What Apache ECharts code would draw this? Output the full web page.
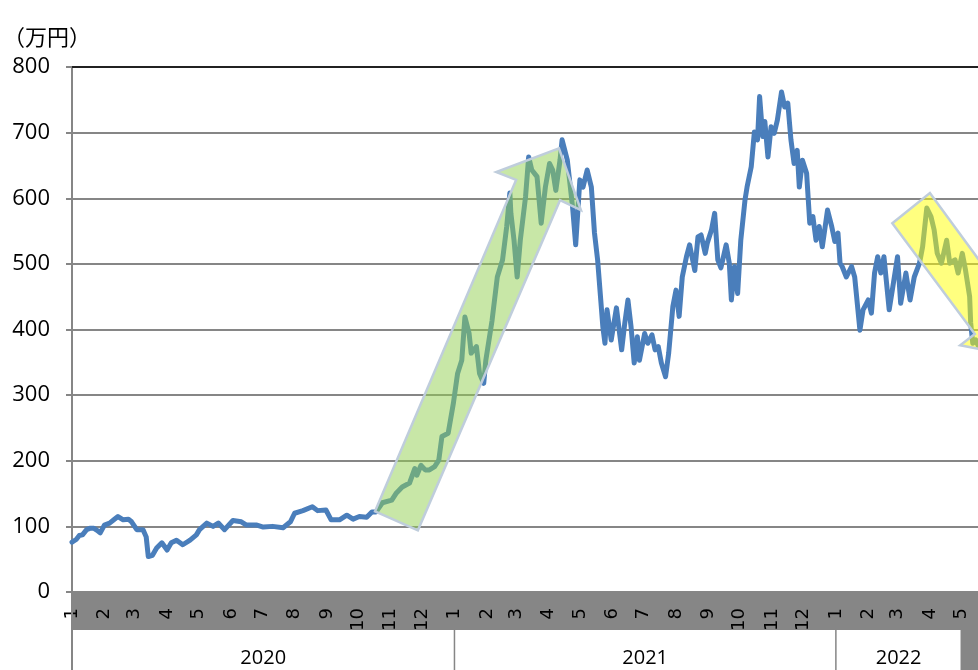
<!DOCTYPE html>
<html>
<head>
<meta charset="utf-8">
<title>ビットコイン価格推移</title>
<script src="https://cdn.jsdelivr.net/npm/echarts@6/dist/echarts.min.js"></script>
<style>
  html, body { margin: 0; padding: 0; background: #ffffff; }
  #chart { width: 978px; height: 670px; }
</style>
</head>
<body>
<div id="chart"></div>
<script>
// Bitcoin price in JPY (unit: 万円), Jan 2020 – May 2022
const dates = [
  '2020-01-01','2020-01-05','2020-01-08','2020-01-11','2020-01-15','2020-01-18','2020-01-22','2020-01-25','2020-01-28',
  '2020-02-01','2020-02-06','2020-02-10','2020-02-14','2020-02-19','2020-02-24','2020-02-27',
  '2020-03-03','2020-03-09','2020-03-12','2020-03-14','2020-03-18','2020-03-22','2020-03-27',
  '2020-04-01','2020-04-05','2020-04-10','2020-04-16','2020-04-23','2020-04-29',
  '2020-05-02','2020-05-09','2020-05-15','2020-05-20','2020-05-26',
  '2020-06-03','2020-06-11','2020-06-16','2020-06-26',
  '2020-07-02','2020-07-11','2020-07-21','2020-07-28',
  '2020-08-01','2020-08-09','2020-08-18','2020-08-23','2020-08-31',
  '2020-09-05','2020-09-13','2020-09-20','2020-09-26',
  '2020-10-02','2020-10-09','2020-10-14','2020-10-18','2020-10-24',
  '2020-11-02','2020-11-06','2020-11-12','2020-11-19','2020-11-24','2020-11-26','2020-11-30',
  '2020-12-04','2020-12-08','2020-12-13','2020-12-17','2020-12-20','2020-12-26','2020-12-31',
  '2021-01-04','2021-01-08','2021-01-11','2021-01-15','2021-01-17','2021-01-22','2021-01-25','2021-01-29','2021-01-31',
  '2021-02-06','2021-02-11','2021-02-16','2021-02-20','2021-02-23','2021-02-24','2021-02-27',
  '2021-03-02','2021-03-05','2021-03-10','2021-03-13','2021-03-16','2021-03-21','2021-03-25','2021-03-29',
  '2021-04-02','2021-04-05','2021-04-08','2021-04-12','2021-04-14','2021-04-19','2021-04-24','2021-04-27',
  '2021-05-01','2021-05-04','2021-05-08','2021-05-12','2021-05-15','2021-05-18','2021-05-21','2021-05-23','2021-05-25','2021-05-27','2021-05-31',
  '2021-06-05','2021-06-10','2021-06-13','2021-06-16','2021-06-19','2021-06-22','2021-06-25','2021-06-27',
  '2021-07-02','2021-07-05','2021-07-09','2021-07-12','2021-07-15','2021-07-18','2021-07-22','2021-07-25','2021-07-29',
  '2021-08-01','2021-08-04','2021-08-07','2021-08-11','2021-08-14','2021-08-19','2021-08-22','2021-08-25','2021-08-29','2021-08-31',
  '2021-09-04','2021-09-07','2021-09-10','2021-09-13','2021-09-18','2021-09-21','2021-09-23','2021-09-26','2021-09-29',
  '2021-10-02','2021-10-06','2021-10-08','2021-10-12','2021-10-15','2021-10-18','2021-10-20','2021-10-23','2021-10-25','2021-10-28','2021-10-31',
  '2021-11-03','2021-11-06','2021-11-10','2021-11-13','2021-11-16','2021-11-19','2021-11-22','2021-11-25','2021-11-27','2021-11-30',
  '2021-12-04','2021-12-07','2021-12-10','2021-12-13','2021-12-16','2021-12-19','2021-12-24','2021-12-28','2021-12-31',
  '2022-01-03','2022-01-05','2022-01-07','2022-01-11','2022-01-16','2022-01-19','2022-01-24','2022-01-27',
  '2022-02-01','2022-02-04','2022-02-07','2022-02-10','2022-02-13','2022-02-16','2022-02-21','2022-02-24',
  '2022-03-01','2022-03-04','2022-03-09','2022-03-13','2022-03-17','2022-03-22','2022-03-25','2022-03-29',
  '2022-04-02','2022-04-05','2022-04-08','2022-04-12','2022-04-17','2022-04-20','2022-04-25','2022-04-28',
  '2022-05-02','2022-05-05','2022-05-09','2022-05-10','2022-05-12','2022-05-15','2022-05-17'
];
const prices = [
  76, 80, 86, 87, 95, 97, 97, 94, 90,
  102, 105, 110, 115, 110, 111, 107,
  95, 95, 84, 54, 56, 67, 75,
  64, 75, 79, 72, 79, 87,
  95, 105, 100, 105, 95,
  109, 107, 102, 102,
  99, 100, 98, 107,
  120, 124, 130, 124, 125,
  110, 110, 117, 111,
  115, 114, 122, 122, 136,
  140, 150, 160, 166, 188, 178, 193,
  186, 186, 191, 201, 237, 242, 288,
  333, 353, 419, 394, 364, 374, 333, 318, 353,
  414, 480, 506, 557, 608, 577, 536,
  480, 536, 602, 663, 643, 633, 562, 617,
  653, 643, 612, 658, 689, 658, 587, 529,
  628, 617, 643, 617, 547, 506, 445, 404, 379, 430, 384,
  433, 369, 410, 445, 404, 349, 389, 353,
  394, 379, 392, 369, 374, 349, 328, 364, 435,
  460, 420, 480, 511, 529, 490, 541, 544, 516, 532,
  552, 577, 506, 494, 529, 501, 445, 496, 455,
  536, 597, 617, 648, 701, 689, 755, 694, 717, 663, 709,
  699, 719, 762, 739, 745, 689, 653, 673, 617, 658,
  638, 562, 572, 536, 557, 526, 582, 557, 534,
  547, 501, 496, 480, 496, 480, 399, 430,
  445, 425, 486, 511, 486, 511, 430, 460,
  511, 440, 486, 445, 480, 501, 526, 585,
  572, 552, 516, 501, 536, 501, 506, 486,
  516, 491, 450, 410, 379, 384, 376
];

// year groups on the lower axis row: boundaries and labels
const yearBounds = ['2020-01-01', '2021-01-01', '2022-01-01', '2022-05-01'];
const yearLabels = ['2020', '2021', '2022'];

// trend arrows, outlined in (date, 万円) space
const riseArrow = [
  ['2020-10-17', 123], ['2020-11-27', 94], ['2021-04-12', 597], ['2021-05-02', 582],
  ['2021-04-11', 676], ['2021-02-10', 640], ['2021-03-01', 628]
];
const fallArrow = [
  ['2022-02-24', 562], ['2022-04-01', 608], ['2022-06-19', 436], ['2022-07-04', 453],
  ['2022-06-28', 358], ['2022-04-30', 376], ['2022-05-14', 393]
];

const NUM_FONT = '"Open Sans", "DejaVu Sans", sans-serif';
const MONTH_FONT = '"DejaVu Sans", sans-serif';
const JP_FONT = '"Noto Sans CJK JP", sans-serif';
const AXIS_GRAY = '#868686';
const BAND_H = 38;

const chart = echarts.init(document.getElementById('chart'), null, { renderer: 'canvas' });

chart.setOption({
  animation: false,
  backgroundColor: '#ffffff',
  title: {
    text: '（万円）',
    left: 3,
    top: 26,
    padding: 0,
    textStyle: { fontFamily: JP_FONT, fontSize: 22, fontWeight: 'normal', color: '#000' }
  },
  grid: { left: 72, top: 67, right: 0, height: 525, containLabel: false },
  xAxis: [
    {
      type: 'time',
      min: '2020-01-01',
      max: '2022-05-17',
      minInterval: 27 * 86400000,
      maxInterval: 32 * 86400000,
      position: 'bottom',
      axisLine: { show: false },
      axisTick: { show: false },
      splitLine: { show: false },
      axisLabel: {
        rotate: 90,
        margin: 16,
        fontSize: 18,
        fontFamily: MONTH_FONT,
        color: '#000',
        formatter: function (v) { return String(new Date(v).getMonth() + 1); }
      }
    },
    {
      type: 'value',
      position: 'top',
      min: 0,
      max: 1,
      axisLine: { show: true, lineStyle: { color: '#000', width: 1.5 } },
      axisTick: { show: false },
      axisLabel: { show: false },
      splitLine: { show: false }
    }
  ],
  yAxis: {
    type: 'value',
    min: 0,
    max: 800,
    interval: 100,
    axisLine: { show: true, lineStyle: { color: AXIS_GRAY, width: 2 } },
    axisTick: { show: true, length: 6, lineStyle: { color: AXIS_GRAY, width: 2 } },
    axisLabel: { fontSize: 22, fontFamily: NUM_FONT, color: '#000', margin: 22 },
    splitLine: { show: true, lineStyle: { color: AXIS_GRAY, width: 2 } }
  },
  series: [{
    type: 'line',
    xAxisIndex: 0,
    data: dates.map((d, i) => [d, prices[i]]),
    showSymbol: false,
    lineStyle: { color: '#4a7ebb', width: 5, cap: 'round', join: 'round' },
    z: 3
  }]
});

// axis band, year row and arrows, placed through the chart's own coordinate conversion
const toPx = (d, v) => chart.convertToPixel({ seriesIndex: 0 }, [d, v]);
const W = chart.getWidth();
const H = chart.getHeight();
const origin = toPx(yearBounds[0], 0);
const x0 = origin[0];
const y0 = origin[1];
const yRow = y0 + BAND_H;
const boundX = yearBounds.map(d => toPx(d, 0)[0]);

const graphics = [];
graphics.push({
  type: 'rect', silent: true, z: -1,
  shape: { x: x0, y: y0, width: W - x0, height: BAND_H },
  style: { fill: AXIS_GRAY }
});
graphics.push({
  type: 'rect', silent: true, z: -1,
  shape: { x: boundX[boundX.length - 1], y: yRow, width: W - boundX[boundX.length - 1], height: H - yRow },
  style: { fill: AXIS_GRAY }
});
graphics.push({
  type: 'line', silent: true, z: 1,
  shape: { x1: x0, y1: y0, x2: x0, y2: H },
  style: { stroke: AXIS_GRAY, lineWidth: 2 }
});
boundX.forEach(function (bx, i) {
  if (i === 0) return;
  graphics.push({
    type: 'line', silent: true, z: 1,
    shape: { x1: bx, y1: yRow, x2: bx, y2: H },
    style: { stroke: AXIS_GRAY, lineWidth: 1.5 }
  });
});
yearLabels.forEach(function (label, i) {
  graphics.push({
    type: 'text', silent: true, z: 1,
    x: (boundX[i] + boundX[i + 1]) / 2,
    y: yRow + 28,
    style: {
      text: label, fill: '#000', fontSize: 20, fontFamily: NUM_FONT,
      align: 'center', verticalAlign: 'middle'
    }
  });
});
[[riseArrow, 'rgba(146, 208, 80, 0.5)'], [fallArrow, 'rgba(255, 255, 0, 0.5)']].forEach(function (a) {
  graphics.push({
    type: 'polygon', silent: true, z: 10,
    shape: { points: a[0].map(p => toPx(p[0], p[1])) },
    style: { fill: a[1], stroke: '#bfcddc', lineWidth: 2.5, lineJoin: 'miter' }
  });
});

chart.setOption({ graphic: graphics });
</script>
</body>
</html>
